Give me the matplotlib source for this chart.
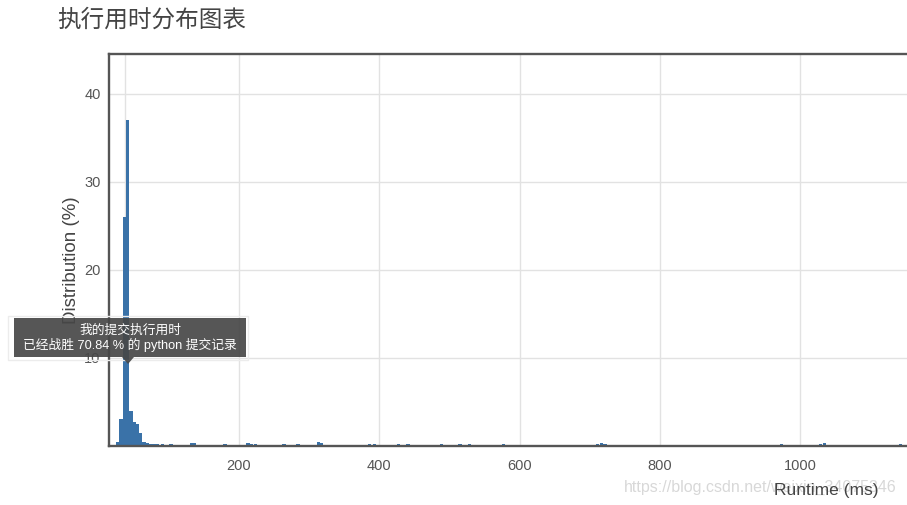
import matplotlib
matplotlib.use("Agg")
import matplotlib.pyplot as plt
from matplotlib.patches import Rectangle, Polygon

plt.rcParams['font.family'] = ['Liberation Sans', 'Noto Sans CJK SC', 'DejaVu Sans']

# runtime bins (ms) and share of submissions (%)
runtime_ms = [27, 31.7, 36.4, 41.1, 45.8, 50.5, 55.2, 59.9, 64.6, 69.3, 74,
              78, 83, 91, 103, 132, 137, 180, 213, 218, 224, 264, 284,
              313, 318, 386, 393, 427, 441, 489, 515, 529, 577,
              711, 717, 722, 974, 1029, 1035, 1143]
distribution_pct = [0.4, 3.1, 26.0, 37.0, 4.0, 2.7, 2.5, 1.5, 0.5, 0.3, 0.2,
                    0.2, 0.2, 0.2, 0.2, 0.3, 0.3, 0.2, 0.3, 0.2, 0.2, 0.2, 0.2,
                    0.4, 0.3, 0.2, 0.2, 0.2, 0.2, 0.2, 0.2, 0.2, 0.2,
                    0.2, 0.3, 0.2, 0.2, 0.2, 0.3, 0.2]
bin_width = 4.7
my_runtime = 37.4

x_ticks = [200, 400, 600, 800, 1000]
y_ticks = [10, 20, 30, 40]

title = "执行用时分布图表"
tip_lines = ["我的提交执行用时", "已经战胜 70.84 % 的 python 提交记录"]

W, H = 907, 505
fig = plt.figure(figsize=(W / 100, H / 100), dpi=100)
ax = fig.add_axes([109 / W, (H - 446) / H, (W - 109) / W, (446 - 54) / H])

ax.set_xlim(14.6, 1152.6)
ax.set_ylim(0, 44.5)

for xv in x_ticks:
    ax.axvline(xv, color='#e2e2e2', lw=1, zorder=0)
for yv in y_ticks:
    ax.axhline(yv, color='#e2e2e2', lw=1, zorder=0)
ax.axvline(my_runtime, color='#e2e2e2', lw=1, zorder=0)

ax.bar(runtime_ms, distribution_pct, width=bin_width, color='#3a72a8',
       edgecolor='none', zorder=2)

ax.set_xticks(x_ticks)
ax.set_yticks(y_ticks)
ax.tick_params(length=0, labelsize=10.5, labelcolor='#555555')
ax.tick_params(axis='x', pad=9)
ax.tick_params(axis='y', pad=6)

for side in ['left', 'top', 'bottom']:
    ax.spines[side].set_color('#555555')
    ax.spines[side].set_linewidth(1.7)
ax.spines['right'].set_visible(False)

fig.text(57 / W, 1 - 20 / H, title, fontsize=17, color='#444444',
         ha='left', va='center')
fig.text(72 / W, 1 - 260 / H, "Distribution (%)", fontsize=13.5,
         color='#444444', rotation=90, ha='center', va='center')

# csdn watermark
fig.text(897 / W, 1 - 487 / H, "https://blog.csdn.net/weixin_34075346",
         fontsize=11.5, color='#d8d8d8', ha='right', va='center')
fig.text(878 / W, 1 - 490 / H, "Runtime (ms)", fontsize=12.5,
         color='#444444', ha='right', va='center')

# hover tooltip
def fx(px):
    return px / W

def fy(py):
    return 1 - py / H

fig.patches.append(Rectangle((fx(8), fy(360)), fx(248) - fx(8), fy(316) - fy(360),
                             transform=fig.transFigure, facecolor='none',
                             edgecolor='#ececec', lw=1, zorder=5))
fig.patches.append(Rectangle((fx(14), fy(357)), fx(246) - fx(14), fy(318) - fy(357),
                             transform=fig.transFigure, facecolor='#474747',
                             alpha=0.92, edgecolor='none', zorder=6))
fig.patches.append(Polygon([(fx(122), fy(357)), (fx(134), fy(357)), (fx(128), fy(364))],
                           closed=True, transform=fig.transFigure,
                           facecolor='#474747', alpha=0.92, edgecolor='none', zorder=6))
fig.text(fx(130), fy(331), tip_lines[0], fontsize=9.2, color='white',
         ha='center', va='center', zorder=7)
fig.text(fx(130), fy(345), tip_lines[1], fontsize=9.2, color='white',
         ha='center', va='center', zorder=7)

fig.savefig("out.png", dpi=100)
